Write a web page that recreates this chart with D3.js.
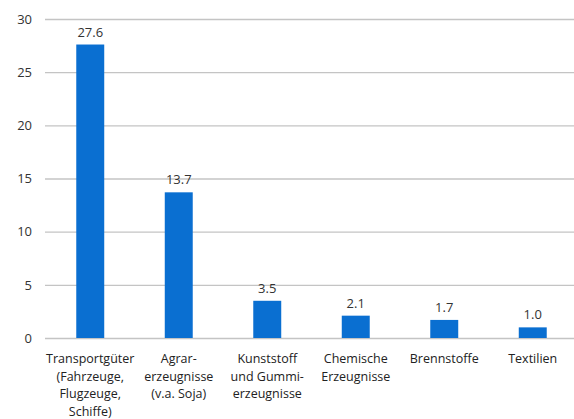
<!DOCTYPE html>
<html><head><meta charset="utf-8">
<script src="https://cdn.jsdelivr.net/npm/d3@7"></script>
<style>body{margin:0;background:#fff}svg{display:block}</style>
</head><body>
<script>
const categories = [
  ["Transportgüter","(Fahrzeuge,","Flugzeuge,","Schiffe)"],
  ["Agrar-","erzeugnisse","(v.a. Soja)"],
  ["Kunststoff","und Gummi-","erzeugnisse"],
  ["Chemische","Erzeugnisse"],
  ["Brennstoffe"],
  ["Textilien"]
];
const values = [27.6, 13.7, 3.5, 2.1, 1.7, 1.0];
const valueLabels = ["27.6","13.7","3.5","2.1","1.7","1.0"];
const yTicks = [0,5,10,15,20,25,30];

const W = 574, H = 419;
const svg = d3.select("body").append("svg").attr("width", W).attr("height", H);
const font = "'Open Sans', 'Noto Sans', sans-serif";

const y = d3.scaleLinear().domain([0,30]).range([338,19]);
const x = d3.scaleBand().domain(d3.range(values.length)).range([46,577]).paddingInner(0.684).paddingOuter(0.342);

// grid
const yAxis = d3.axisLeft(y).tickValues(yTicks).tickSize(-(574-45)).tickPadding(13).tickFormat(d3.format("d"));
const gy = svg.append("g").attr("transform","translate(45,0)").call(yAxis);
gy.select(".domain").remove();
gy.selectAll(".tick line").attr("stroke","#c4c4c4").attr("stroke-width",1.3);
gy.selectAll(".tick text").attr("font-family",font).attr("font-size",13).attr("fill","#333");

// bars
svg.append("g").selectAll("rect").data(values).join("rect")
  .attr("x",(d,i)=>x(i)).attr("width",x.bandwidth())
  .attr("y",d=>y(d)).attr("height",d=>y(0)-y(d))
  .attr("fill","#0a6fd1");

// value labels
svg.append("g").selectAll("text").data(values).join("text")
  .attr("x",(d,i)=>x(i)+x.bandwidth()/2).attr("y",d=>y(d)-8)
  .attr("text-anchor","middle").attr("font-family",font).attr("font-size",13).attr("fill","#333")
  .text((d,i)=>valueLabels[i]);

// category labels
const xAxis = d3.axisBottom(x).tickSize(0).tickFormat("");
const gx = svg.append("g").attr("transform","translate(0,338)").call(xAxis);
gx.select(".domain").remove();
gx.selectAll(".tick").each(function(i){
  const t = d3.select(this).append("text").attr("text-anchor","middle")
    .attr("font-family",font).attr("font-size",12.5).attr("fill","#222");
  categories[i].forEach((line,k)=>{
    t.append("tspan").attr("x",0).attr("y",25 + k*17.5).text(line);
  });
});
</script>
</body></html>
